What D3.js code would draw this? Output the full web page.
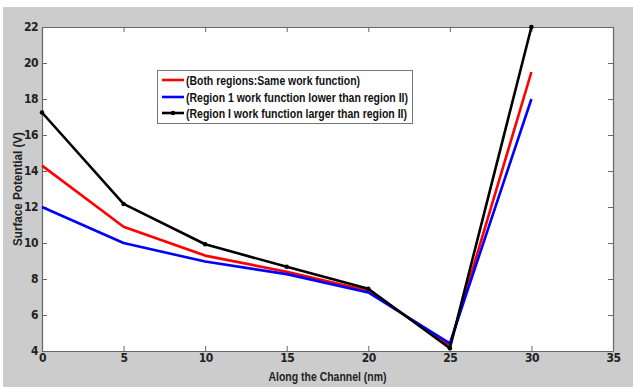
<!DOCTYPE html>
<html>
<head>
<meta charset="utf-8">
<script src="https://cdn.jsdelivr.net/npm/d3@7"></script>
<style>
  body { margin: 0; background: #ffffff; }
  svg { display: block; font-family: "Liberation Sans", Arial, sans-serif; }
</style>
</head>
<body>
<div id="chart"></div>
<script>
// values
const channelPos = [0, 5, 10, 15, 20, 25, 30];
const sameWork = [14.3, 10.9, 9.3, 8.4, 7.35, 4.3, 19.5];
const region1Lower = [12.0, 10.0, 8.97, 8.27, 7.25, 4.42, 18.0];
const region1Larger = [17.25, 12.17, 9.93, 8.68, 7.46, 4.15, 22.0];
const xTicks = [0, 5, 10, 15, 20, 25, 30, 35];
const yTicks = [4, 6, 8, 10, 12, 14, 16, 18, 20, 22];
const seriesNames = [
	'(Both regions:Same work function)',
	'(Region 1 work function lower than region II)',
	'(Region I work function larger than region II)'
];
const seriesColors = ['#ff0000', '#0000ff', '#000000'];

const width = 633, height = 387;
const margin = {left: 42, right: 20, top: 27, bottom: 36};

const svg = d3.select('#chart')
	.append('svg')
	.attr('width', width)
	.attr('height', height);

// grey figure background
svg.append('rect')
	.attr('x', 3).attr('y', 7)
	.attr('width', width - 3).attr('height', height - 7)
	.attr('fill', '#cccccc');

const xScale = d3.scaleLinear()
	.domain([0, 35])
	.range([margin.left, width - margin.right]);
const yScale = d3.scaleLinear()
	.domain([4, 22])
	.range([height - margin.bottom, margin.top]);

svg.append('rect')
	.attr('x', xScale(0)).attr('y', yScale(22))
	.attr('width', xScale(35) - xScale(0))
	.attr('height', yScale(4) - yScale(22))
	.attr('fill', '#ffffff');

const tickLen = 5;
function styleAxis(g) {
	g.select('.domain').attr('stroke', '#666').attr('stroke-width', 1.2);
	g.selectAll('.tick line').attr('stroke', '#666');
	g.selectAll('text')
		.attr('fill', '#222')
		.attr('font-weight', 'bold')
		.attr('font-size', 12)
		.attr('font-family', '"DejaVu Sans Condensed", "Liberation Sans", sans-serif')
		.attr('letter-spacing', -0.5);
}

svg.append('g')
	.attr('transform', `translate(0,${yScale(4)})`)
	.call(d3.axisBottom(xScale).tickValues(xTicks).tickSize(-tickLen).tickPadding(2).tickSizeOuter(0))
	.call(styleAxis);
svg.append('g')
	.attr('transform', `translate(0,${yScale(22)})`)
	.call(d3.axisTop(xScale).tickValues(xTicks).tickSize(-tickLen).tickFormat('').tickSizeOuter(0))
	.call(styleAxis);
svg.append('g')
	.attr('transform', `translate(${xScale(0)},0)`)
	.call(d3.axisLeft(yScale).tickValues(yTicks).tickSize(-tickLen).tickPadding(4).tickSizeOuter(0))
	.call(styleAxis);
svg.append('g')
	.attr('transform', `translate(${xScale(35)},0)`)
	.call(d3.axisRight(yScale).tickValues(yTicks).tickSize(-tickLen).tickFormat('').tickSizeOuter(0))
	.call(styleAxis);

// axis titles
svg.append('text')
	.attr('x', (xScale(0) + xScale(35)) / 2)
	.attr('y', 381)
	.attr('text-anchor', 'middle')
	.attr('font-weight', 'bold')
	.attr('font-size', 12)
	.attr('fill', '#222')
	.attr('textLength', 118)
	.attr('lengthAdjust', 'spacingAndGlyphs')
	.text('Along the Channel (nm)');

svg.append('text')
	.attr('transform', `translate(22,${(yScale(4) + yScale(22)) / 2}) rotate(-90)`)
	.attr('text-anchor', 'middle')
	.attr('font-weight', 'bold')
	.attr('font-size', 12)
	.attr('fill', '#222')
	.attr('textLength', 114)
	.attr('lengthAdjust', 'spacingAndGlyphs')
	.text('Surface Potential (V)');

// lines
const allSeries = [sameWork, region1Lower, region1Larger];
const line = d3.line()
	.x((d, i) => xScale(channelPos[i]))
	.y(d => yScale(d));

allSeries.forEach((vals, k) => {
	svg.append('path')
		.datum(vals)
		.attr('d', line)
		.attr('fill', 'none')
		.attr('stroke', seriesColors[k])
		.attr('stroke-width', 2.6)
		.attr('stroke-linejoin', 'round');
});

svg.append('g')
	.selectAll('circle')
	.data(region1Larger)
	.enter()
	.append('circle')
	.attr('cx', (d, i) => xScale(channelPos[i]))
	.attr('cy', d => yScale(d))
	.attr('r', 2.3)
	.attr('fill', '#000');

// legend
const legend = svg.append('g');
legend.append('rect')
	.attr('x', 157.5).attr('y', 70.5)
	.attr('width', 255).attr('height', 53)
	.attr('fill', '#ffffff')
	.attr('stroke', '#777')
	.attr('stroke-width', 1);

const rowY = [80, 97, 113];
const textLens = [174, 222, 221];
seriesNames.forEach((name, k) => {
	legend.append('line')
		.attr('x1', 162).attr('x2', 184)
		.attr('y1', rowY[k]).attr('y2', rowY[k])
		.attr('stroke', seriesColors[k])
		.attr('stroke-width', 2.6);
	if (k == 2) {
		legend.append('circle')
			.attr('cx', 173).attr('cy', rowY[k])
			.attr('r', 2.3)
			.attr('fill', '#000');
	}
	legend.append('text')
		.attr('x', 186)
		.attr('y', rowY[k] + 4.5)
		.attr('font-weight', 'bold')
		.attr('font-size', 12)
		.attr('fill', '#111')
		.attr('textLength', textLens[k])
		.attr('lengthAdjust', 'spacingAndGlyphs')
		.text(name);
});
</script>
</body>
</html>
